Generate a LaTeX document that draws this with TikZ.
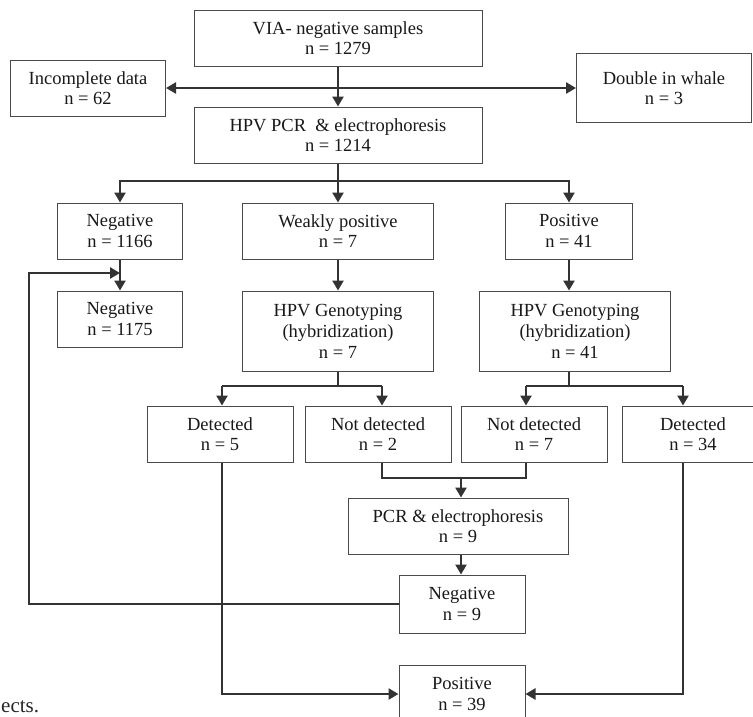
\documentclass[tikz,border=0pt]{standalone}
\usepackage{fontspec}
\setmainfont{Liberation Serif}
\usetikzlibrary{arrows.meta}
\definecolor{ln}{HTML}{333333}
\definecolor{bd}{HTML}{4A4A4A}
\begin{document}
\begin{tikzpicture}[x=1pt,y=-1pt,
  box/.style={draw=bd, line width=1pt, fill=white, align=center, inner sep=0pt,
    font=\fontsize{18.5}{20.5}\selectfont, text=black!90},
  conn/.style={draw=ln, line width=2.7pt},
  arr/.style={conn, -{Triangle[length=10pt,width=11pt]}},
  darr/.style={conn, {Triangle[length=10pt,width=11pt]}-{Triangle[length=10pt,width=11pt]}}
]
\useasboundingbox (0,0) rectangle (753,716);

% boxes
\node[box, minimum width=288pt, minimum height=56pt] (via)  at (338,38)  {VIA- negative samples\\n = 1279};
\node[box, minimum width=155pt, minimum height=56pt] (inc)  at (88,88)   {Incomplete data\\n = 62};
\node[box, minimum width=175pt, minimum height=69pt] (dbl)  at (664,88)  {Double in whale\\n = 3};
\node[box, minimum width=288pt, minimum height=56pt] (pcr)  at (338,135) {HPV PCR\ \ \& electrophoresis\\n = 1214};

\node[box, minimum width=125pt, minimum height=56pt] (neg1) at (120,231) {Negative\\n = 1166};
\node[box, minimum width=191pt, minimum height=56pt] (weak) at (338,231) {Weakly positive\\n = 7};
\node[box, minimum width=127pt, minimum height=56pt] (pos)  at (569,231) {Positive\\n = 41};

\node[box, minimum width=125pt, minimum height=56pt] (neg2) at (120,319) {Negative\\n = 1175};
\node[box, minimum width=191pt, minimum height=80pt, font=\fontsize{18.5}{21}\selectfont] (gen1) at (338,331) {HPV Genotyping\\(hybridization)\\n = 7};
\node[box, minimum width=191pt, minimum height=80pt, font=\fontsize{18.5}{21}\selectfont] (gen2) at (575,331) {HPV Genotyping\\(hybridization)\\n = 41};

\node[box, minimum width=146pt, minimum height=56pt] (det1) at (220,434) {Detected\\n = 5};
\node[box, minimum width=146pt, minimum height=56pt] (nd1)  at (378,434) {Not detected\\n = 2};
\node[box, minimum width=146pt, minimum height=56pt] (nd2)  at (534,434) {Not detected\\n = 7};
\node[box, minimum width=142pt, minimum height=56pt] (det2) at (693,434) {Detected\\n = 34};

\node[box, minimum width=220pt, minimum height=56pt] (pcr2) at (458,526) {PCR \& electrophoresis\\n = 9};
\node[box, minimum width=126pt, minimum height=58pt] (neg3) at (462,604) {Negative\\n = 9};
\node[box, minimum width=126pt, minimum height=58pt] (pos3) at (462,694) {Positive\\n = 39};

\node[anchor=base west, inner sep=0pt, font=\fontsize{21}{24}\selectfont, text=black!85] (cap) at (1,712) {ects.};

% connectors
\draw[arr] (via.south) -- (pcr.north);
\draw[darr] (inc.east) -- (inc.east -| dbl.west);

\coordinate (hA) at (338,181);
\draw[conn] (pcr.south) -- (hA);
\draw[arr] (hA) -| (neg1.north);
\draw[arr] (hA) -| (pos.north);
\draw[arr] (hA) -- (weak.north);

\draw[arr] (neg1.south) -- (neg2.north);
\draw[arr] (weak.south) -- (gen1.north);
\draw[arr] (pos.south) -- (pos.south |- gen2.north);

\coordinate (hB) at (338,386);
\coordinate (tL) at (222,386);
\coordinate (tR) at (382,386);
\draw[conn] (gen1.south) -- (hB);
\draw[conn] (tL) -- (tR);
\draw[arr] (tL) -- (tL |- det1.north);
\draw[arr] (tR) -- (tR |- nd1.north);

\coordinate (tC) at (569,386);
\coordinate (tD) at (526,386);
\coordinate (tE) at (683,386);
\draw[conn] (tC |- gen2.south) -- (tC);
\draw[conn] (tD) -- (tE);
\draw[arr] (tD) -- (tD |- nd2.north);
\draw[arr] (tE) -- (tE |- det2.north);

\coordinate (m1) at (382,478);
\coordinate (m2) at (526,478);
\coordinate (m3) at (461,478);
\draw[conn] (tR |- nd1.south) -- (m1) -- (m2) -- (tD |- nd2.south);
\draw[arr] (m3) -- (m3 |- pcr2.north);
\draw[arr] (m3 |- pcr2.south) -- (m3 |- neg3.north);

\coordinate (fb1) at (29,604);
\coordinate (fb2) at (29,273);
\draw[arr] (neg3.west) -- (fb1) -- (fb2) -- (neg1.south |- fb2);

\draw[arr] (tL |- det1.south) -- (tL |- pos3.west) -- (pos3.west);
\draw[arr] (tE |- det2.south) -- (tE |- pos3.east) -- (pos3.east);
\end{tikzpicture}
\end{document}
